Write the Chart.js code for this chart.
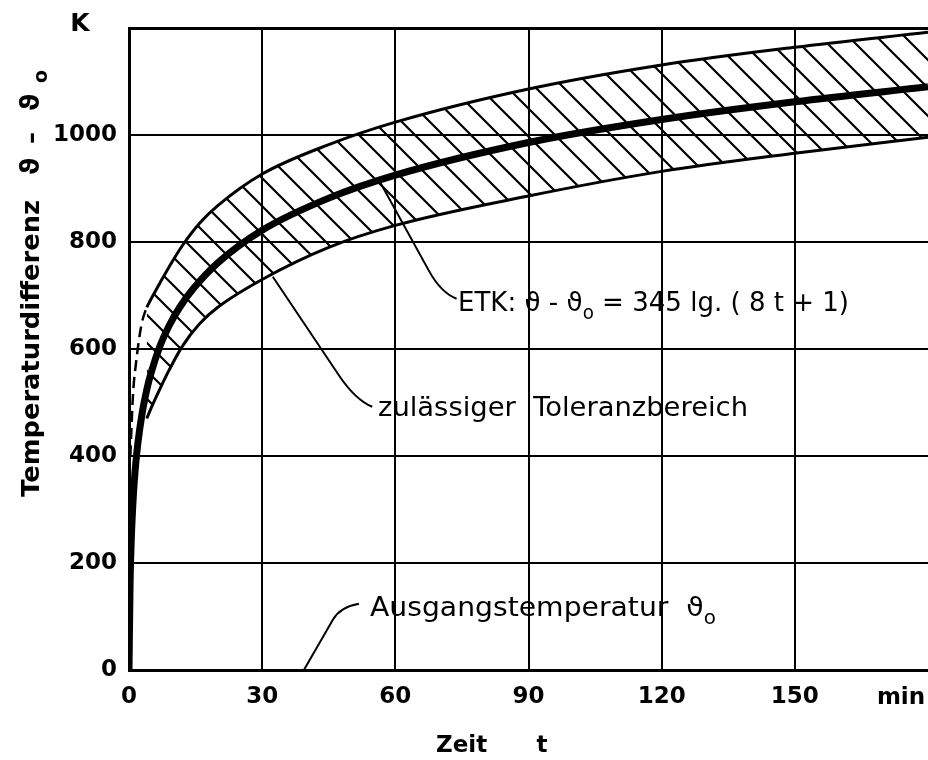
<!DOCTYPE html>
<html>
<head>
<meta charset="utf-8">
<title>Einheits-Temperaturzeitkurve</title>
<script src="https://cdn.jsdelivr.net/npm/chart.js@4.4.1/dist/chart.umd.min.js"></script>
<style>
  html, body { margin: 0; padding: 0; background: #fff; }
  #wrap { width: 928px; height: 760px; }
</style>
</head>
<body>
<div id="wrap"><canvas id="etk" width="928" height="760"></canvas></div>
<script>
// Zeit t in min, Temperaturdifferenz in K
const etkTime  = [0, 0.25, 0.5, 1, 1.5, 2, 3, 4, 5, 7, 9, 11.5, 14.5, 20, 30, 45, 60, 90, 120, 150, 180];
const etkValue = [0, 165, 241, 329, 384, 424, 482, 524, 556, 606, 643, 679, 713, 761, 822, 882, 925, 986, 1029, 1062, 1090];

// Toleranzbereich, obere und untere Grenze
const bandTime  = [4, 5, 7, 9, 12, 16, 20, 30, 45, 60, 90, 120, 150, 180];
const bandUpper = [678, 694, 724, 753, 793, 836, 868, 927, 982, 1024, 1086, 1131, 1164, 1192];
const bandLower = [470, 490, 526, 560, 605, 648, 678, 730, 790, 831, 886, 932, 966, 996];

// gestrichelter Anlauf der oberen Grenze
const startTime  = [0.3, 0.9, 1.6, 2.5, 3.1, 4];
const startUpper = [400, 515, 575, 631, 656, 678];

const xTicks = [0, 30, 60, 90, 120, 150, 180];
const yTicks = [0, 200, 400, 600, 800, 1000, 1200];

const INK = '#000';
const FAMILY = "'DejaVu Sans', sans-serif";
const tickFont = { family: FAMILY, size: 23, weight: 'bold' };

function toPoints(xs, ys) {
  return xs.map((x, i) => ({ x, y: ys[i] }));
}

// "\" hatching for the tolerance band
function makeHatch() {
  const s = 28;
  const c = document.createElement('canvas');
  c.width = s;
  c.height = s;
  const g = c.getContext('2d');
  g.strokeStyle = INK;
  g.lineWidth = 2.2;
  g.beginPath();
  g.moveTo(0, 0); g.lineTo(s, s);
  g.moveTo(-2, s - 2); g.lineTo(2, s + 2);
  g.moveTo(s - 2, -2); g.lineTo(s + 2, 2);
  g.stroke();
  return g.createPattern(c, 'repeat');
}

// text with subscript parts, stretched to a given width
function drawRich(ctx, parts, x, y, size, width, weight) {
  const fontFor = p => `${weight || 'normal'} ${p.sub ? Math.round(size * 0.72) : size}px ${FAMILY}`;
  let natural = 0;
  parts.forEach(p => { ctx.font = fontFor(p); natural += ctx.measureText(p.t).width; });
  const sx = width ? width / natural : 1;
  ctx.save();
  ctx.translate(x, y);
  ctx.scale(sx, 1);
  ctx.textBaseline = 'alphabetic';
  ctx.textAlign = 'left';
  let cx = 0;
  parts.forEach(p => {
    ctx.font = fontFor(p);
    ctx.fillText(p.t, cx, p.sub ? size * 0.3 : 0);
    cx += ctx.measureText(p.t).width;
  });
  ctx.restore();
}

// leader lines in data units: straight run, then a small rounded hook into the label
const leaders = [
  { from: [56.7, 910], bend: [70.3, 705], hook: [73.8, 694] },
  { from: [32.4, 735], bend: [51.0, 505], hook: [54.8, 492] },
  { from: [39.4, 0],   bend: [47.6, 118], hook: [51.8, 124] }
];

const annotationPlugin = {
  id: 'annotationPlugin',
  beforeDraw(chart) {
    const ctx = chart.ctx;
    ctx.save();
    ctx.fillStyle = '#fff';
    ctx.fillRect(0, 0, chart.width, chart.height);
    ctx.restore();
  },
  afterDraw(chart) {
    const ctx = chart.ctx;
    const xs = chart.scales.x;
    const ys = chart.scales.y;
    const px = p => [xs.getPixelForValue(p[0]), ys.getPixelForValue(p[1])];

    ctx.save();
    ctx.strokeStyle = INK;
    ctx.fillStyle = INK;
    ctx.lineWidth = 2;
    ctx.lineJoin = 'round';

    leaders.forEach(l => {
      const a = px(l.from), b = px(l.bend), h = px(l.hook);
      ctx.beginPath();
      ctx.moveTo(a[0], a[1]);
      const t = 0.8;
      ctx.lineTo(a[0] + (b[0] - a[0]) * t, a[1] + (b[1] - a[1]) * t);
      ctx.quadraticCurveTo(b[0], b[1], h[0], h[1]);
      ctx.stroke();
    });

    // labels
    drawRich(ctx, [{ t: 'ETK: ϑ - ϑ' }, { t: 'o', sub: true }, { t: ' = 345 lg. ( 8 t + 1)' }],
      458, 311, 27, 391);
    drawRich(ctx, [{ t: 'zulässiger  Toleranzbereich' }], 378, 416, 27, 370);
    drawRich(ctx, [{ t: 'Ausgangstemperatur  ϑ' }, { t: 'o', sub: true }], 370, 616, 27, 346);

    // axis units and titles
    ctx.font = `bold 25px ${FAMILY}`;
    ctx.textAlign = 'center';
    ctx.textBaseline = 'middle';
    ctx.fillText('K', 80, 24);
    ctx.font = `bold 23px ${FAMILY}`;
    ctx.fillText('min', 901, 698);
    ctx.fillText('t', 542, 746);
    ctx.textAlign = 'left';
    ctx.fillText('Zeit', 436, 746);

    // y title, read bottom to top
    ctx.save();
    ctx.translate(39, 497);
    ctx.rotate(-Math.PI / 2);
    drawRich(ctx, [{ t: 'Temperaturdifferenz' }], 0, 0, 24, 297, 'bold');
    drawRich(ctx, [{ t: 'ϑ' }], 322, 0, 26, 0, 'bold');
    drawRich(ctx, [{ t: '–' }], 353, 0, 24, 0, 'bold');
    drawRich(ctx, [{ t: 'ϑ' }], 386, 0, 26, 0, 'bold');
    drawRich(ctx, [{ t: 'o', sub: true }], 414, 0, 26, 0, 'bold');
    ctx.restore();

    ctx.restore();
  }
};

const hatch = makeHatch();

new Chart(document.getElementById('etk'), {
  type: 'line',
  data: {
    datasets: [
      {
        data: toPoints(bandTime, bandUpper),
        borderColor: INK,
        borderWidth: 3,
        backgroundColor: hatch,
        fill: '+1',
        cubicInterpolationMode: 'monotone',
        order: 3
      },
      {
        data: toPoints(bandTime, bandLower),
        borderColor: INK,
        borderWidth: 3,
        fill: false,
        cubicInterpolationMode: 'monotone',
        order: 2
      },
      {
        data: toPoints(startTime, startUpper),
        borderColor: INK,
        borderWidth: 2.5,
        borderDash: [11, 6],
        fill: false,
        cubicInterpolationMode: 'monotone',
        order: 1
      },
      {
        data: toPoints(etkTime, etkValue),
        borderColor: INK,
        borderWidth: 7,
        fill: false,
        cubicInterpolationMode: 'monotone',
        order: 0
      }
    ]
  },
  options: {
    responsive: false,
    animation: false,
    events: [],
    elements: { point: { radius: 0 } },
    layout: { padding: { top: 28, right: 0, bottom: 0, left: 0 } },
    plugins: {
      legend: { display: false },
      tooltip: { enabled: false }
    },
    scales: {
      x: {
        type: 'linear',
        min: 0,
        max: 180,
        afterBuildTicks: s => { s.ticks = xTicks.map(v => ({ value: v })); },
        afterFit: s => { s.height = 90; s.paddingLeft = 0; s.paddingRight = 0; },
        grid: {
          drawTicks: false,
          color: c => (c.tick && (c.tick.value === 0 || c.tick.value === 180)) ? 'rgba(0,0,0,0)' : INK,
          lineWidth: 2
        },
        border: { color: INK, width: 3 },
        ticks: {
          color: INK,
          font: tickFont,
          padding: 13,
          maxRotation: 0,
          callback: v => (v === 180 ? '' : String(v))
        }
      },
      y: {
        type: 'linear',
        min: 0,
        max: 1200,
        afterBuildTicks: s => { s.ticks = yTicks.map(v => ({ value: v })); },
        afterFit: s => { s.width = 129; },
        grid: {
          drawTicks: false,
          color: c => (c.tick && c.tick.value === 0) ? 'rgba(0,0,0,0)' : INK,
          lineWidth: c => (c.tick && c.tick.value === 1200) ? 3 : 2
        },
        border: { color: INK, width: 3 },
        ticks: {
          color: INK,
          font: tickFont,
          padding: 12,
          callback: v => (v === 1200 ? '' : String(v))
        }
      }
    }
  },
  plugins: [annotationPlugin]
});
</script>
</body>
</html>
